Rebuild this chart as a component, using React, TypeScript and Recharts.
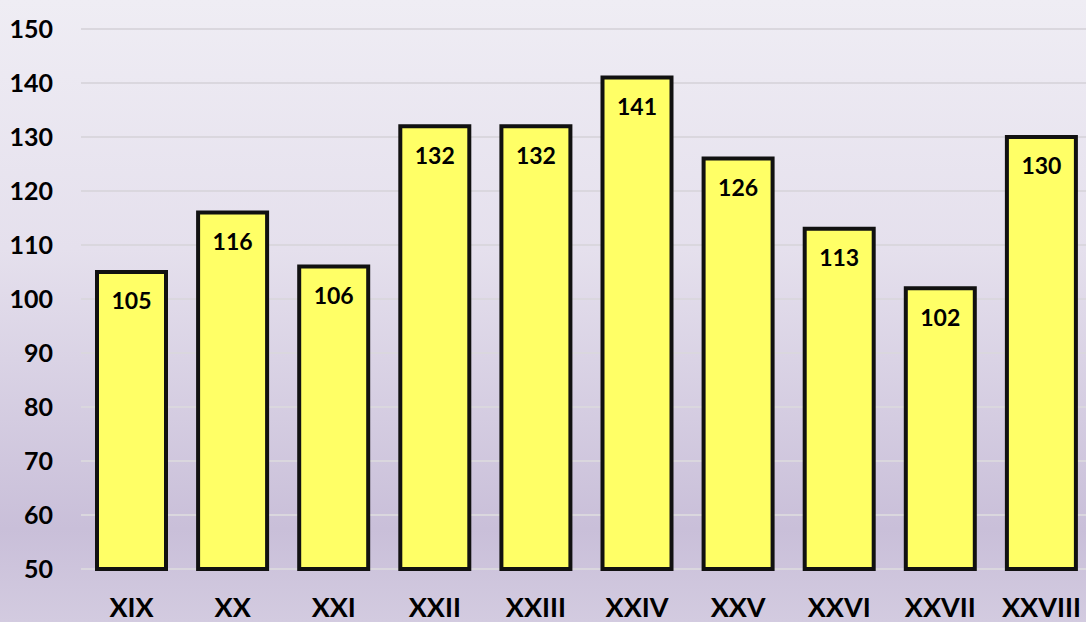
import React from "react";
import { BarChart, Bar, XAxis, YAxis, CartesianGrid, LabelList } from "recharts";

const categories = ["XIX", "XX", "XXI", "XXII", "XXIII", "XXIV", "XXV", "XXVI", "XXVII", "XXVIII"];
const values = [105, 116, 106, 132, 132, 141, 126, 113, 102, 130];
const yTicks = [50, 60, 70, 80, 90, 100, 110, 120, 130, 140, 150];

const data = categories.map((c, i) => ({ name: c, value: values[i] }));

const font = "Lato, 'Open Sans', sans-serif";

export default function App() {
  return (
    <div
      style={{
        position: "fixed",
        left: 0,
        top: 0,
        width: 1086,
        height: 622,
        overflow: "hidden",
        background: "linear-gradient(180deg, #EFEDF4 0%, #E5E0ED 40%, #C9BFD9 85%, #D3CBE0 100%)",
      }}
    >
      <BarChart
        width={1092}
        height={622}
        data={data}
        margin={{ top: 29, right: 0, bottom: 0, left: 0 }}
        barSize={69}
      >
        <CartesianGrid vertical={false} stroke="#DAD7DE" strokeWidth={2} />
        <XAxis
          dataKey="name"
          axisLine={false}
          tickLine={false}
          tickSize={0}
          tickMargin={29}
          height={53}
          interval={0}
          tick={{ fill: "#000", fontSize: 27, fontWeight: 700, fontFamily: font }}
        />
        <YAxis
          domain={[50, 150]}
          ticks={yTicks}
          axisLine={false}
          tickLine={false}
          tickSize={0}
          tickMargin={28}
          width={81}
          interval={0}
          tick={{ fill: "#000", fontSize: 25, fontWeight: 700, fontFamily: font }}
        />
        <Bar dataKey="value" fill="#FFFF66" stroke="#111" strokeWidth={4} isAnimationActive={false}>
          <LabelList
            dataKey="value"
            position="insideTop"
            offset={21}
            style={{ fill: "#000", fontSize: 23, fontWeight: 700, fontFamily: font }}
          />
        </Bar>
      </BarChart>
    </div>
  );
}
